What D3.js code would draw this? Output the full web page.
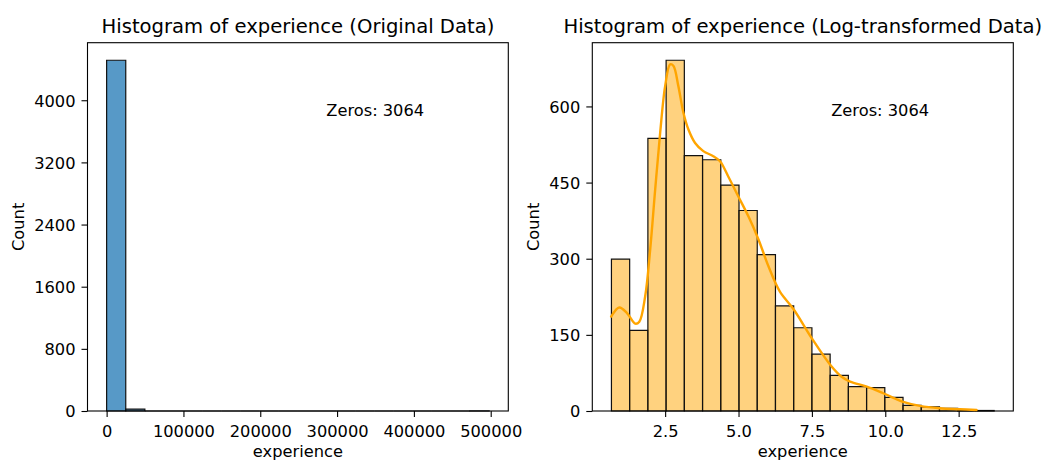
<!DOCTYPE html>
<html>
<head>
<meta charset="utf-8">
<script src="https://cdn.jsdelivr.net/npm/d3@7"></script>
<style>
  html, body { margin: 0; padding: 0; background: #fff; }
  svg { display: block; font-family: "DejaVu Sans", sans-serif; }
</style>
</head>
<body>
<svg id="chart" width="1049" height="463"></svg>
<script>
// ---- data ----------------------------------------------------------------
// Raw experience values: 20 equal-width bins between the min and max
const origRange = [0, 498000];
const origCounts = [4515, 24, 0, 0, 0, 0, 0, 0, 0, 0, 0, 0, 0, 0, 0, 0, 0, 0, 0, 1];
const origXTicks = [0, 100000, 200000, 300000, 400000, 500000];
const origYTicks = [0, 800, 1600, 2400, 3200, 4000];

// Log-transformed experience: 21 equal-width bins
const logRange = [0.67, 13.71];
const logCounts = [299, 159, 537, 691, 503, 495, 445, 395, 308, 207, 164, 112, 70, 48, 46, 27, 11, 8, 5, 2, 1];
const logXTicks = [2.5, 5.0, 7.5, 10.0, 12.5];
const logYTicks = [0, 150, 300, 450, 600];

// Density curve over the log-transformed values (in count units)
const kdeX = [0.66, 0.94, 1.20, 1.48, 1.62, 1.82, 1.99, 2.16, 2.33, 2.50, 2.67, 2.78, 2.95, 3.12, 3.29,
              3.52, 3.80, 4.14, 4.37, 4.65, 4.99, 5.34, 5.68, 6.02, 6.41, 6.87, 7.50, 8.15, 8.50, 8.80,
              9.37, 9.93, 10.61, 11.18, 11.86, 12.54, 13.11];
const kdeY = [186, 204, 193, 172, 176, 226, 318, 436, 548, 640, 683, 680, 640, 588, 555,
              528, 512, 502, 492, 462, 423, 383, 338, 285, 235, 201, 143, 89, 68, 58,
              48, 35, 18, 10, 5.3, 3.4, 2];

const zeroCount = 3064;
const titles = ["Histogram of experience (Original Data)", "Histogram of experience (Log-transformed Data)"];
const xLabel = "experience";
const yLabel = "Count";

// ---- layout --------------------------------------------------------------
const svg = d3.select("#chart");
const plotTop = 42.7, plotBottom = 411;
const TICK_FONT = 16.25, TITLE_FONT = 19.6;

function drawPanel(cfg) {
  const { x0, x1, range, counts, xTicks, yTicks, xFmt, fill, fillOpacity, title } = cfg;
  const g = svg.append("g");
  const n = counts.length;
  const span = range[1] - range[0];
  const edges = d3.range(n + 1).map(i => range[0] + i * span / n);

  const x = d3.scaleLinear()
    .domain([range[0] - 0.05 * span, range[1] + 0.05 * span])
    .range([x0, x1]);
  const y = d3.scaleLinear()
    .domain([0, d3.max(counts) * 1.05])
    .range([plotBottom, plotTop]);

  // bars as closed paths so empty bins still leave their outline on the baseline
  g.append("g").selectAll("path")
    .data(counts)
    .join("path")
    .attr("d", (d, i) => {
      const xa = x(edges[i]), xb = x(edges[i + 1]), y0 = y(0), y1 = y(d);
      return `M${xa},${y0}V${y1}H${xb}V${y0}Z`;
    })
    .attr("fill", fill)
    .attr("fill-opacity", fillOpacity)
    .attr("stroke", "#111")
    .attr("stroke-width", 1.2);

  // x axis
  const xa = g.append("g")
    .attr("transform", `translate(0,${plotBottom})`)
    .call(d3.axisBottom(x).tickValues(xTicks).tickFormat(xFmt).tickSize(6).tickPadding(12));
  // y axis
  const ya = g.append("g")
    .attr("transform", `translate(${x0},0)`)
    .call(d3.axisLeft(y).tickValues(yTicks).tickFormat(d3.format("d")).tickSize(6).tickPadding(6));

  [xa, ya].forEach(a => {
    a.select(".domain").remove();
    a.selectAll(".tick line").attr("stroke", "#000").attr("stroke-width", 1.1);
    a.selectAll(".tick text")
      .attr("fill", "#000")
      .style("font-size", TICK_FONT + "px")
      .style("font-family", "'DejaVu Sans', sans-serif");
  });
  xa.selectAll(".tick text").attr("y", 12).attr("dy", "0.85em");
  ya.selectAll(".tick text").attr("dy", "0.36em");

  // frame
  g.append("rect")
    .attr("x", x0).attr("y", plotTop)
    .attr("width", x1 - x0).attr("height", plotBottom - plotTop)
    .attr("fill", "none").attr("stroke", "#000").attr("stroke-width", 1.1);

  // title
  g.append("text")
    .attr("x", (x0 + x1) / 2).attr("y", 33)
    .attr("text-anchor", "middle")
    .style("font-size", TITLE_FONT + "px")
    .attr("fill", "#000")
    .text(title);

  // x label
  g.append("text")
    .attr("x", (x0 + x1) / 2).attr("y", 457)
    .attr("text-anchor", "middle")
    .style("font-size", TICK_FONT + "px")
    .attr("fill", "#000")
    .text(xLabel);

  // y label placed just left of the tick labels
  const bb = ya.node().getBBox();
  const lx = x0 + bb.x - 6.5 - 3.8;
  g.append("text")
    .attr("transform", `translate(${lx},${(plotTop + plotBottom) / 2}) rotate(-90)`)
    .attr("text-anchor", "middle")
    .style("font-size", TICK_FONT + "px")
    .attr("fill", "#000")
    .text(yLabel);

  // zero-count annotation
  g.append("text")
    .attr("x", x0 + 0.8 * (x1 - x0))
    .attr("y", plotBottom - 0.8 * (plotBottom - plotTop))
    .attr("text-anchor", "end")
    .style("font-size", TICK_FONT + "px")
    .attr("fill", "#000")
    .text(`Zeros: ${zeroCount}`);

  return { g, x, y };
}

// left: original values
drawPanel({
  x0: 87.5, x1: 508.3,
  range: origRange, counts: origCounts,
  xTicks: origXTicks, yTicks: origYTicks,
  xFmt: d3.format("d"),
  fill: "#1f77b4", fillOpacity: 0.75,
  title: titles[0]
});

// right: log-transformed values with density curve
const right = drawPanel({
  x0: 592.3, x1: 1013.3,
  range: logRange, counts: logCounts,
  xTicks: logXTicks, yTicks: logYTicks,
  xFmt: d3.format(".1f"),
  fill: "orange", fillOpacity: 0.5,
  title: titles[1]
});

const line = d3.line()
  .x(d => right.x(d[0]))
  .y(d => right.y(d[1]))
  .curve(d3.curveCatmullRom.alpha(0.5));

right.g.append("path")
  .datum(d3.zip(kdeX, kdeY))
  .attr("d", line)
  .attr("fill", "none")
  .attr("stroke", "orange")
  .attr("stroke-width", 2.4)
  .attr("stroke-linecap", "round");
</script>
</body>
</html>
